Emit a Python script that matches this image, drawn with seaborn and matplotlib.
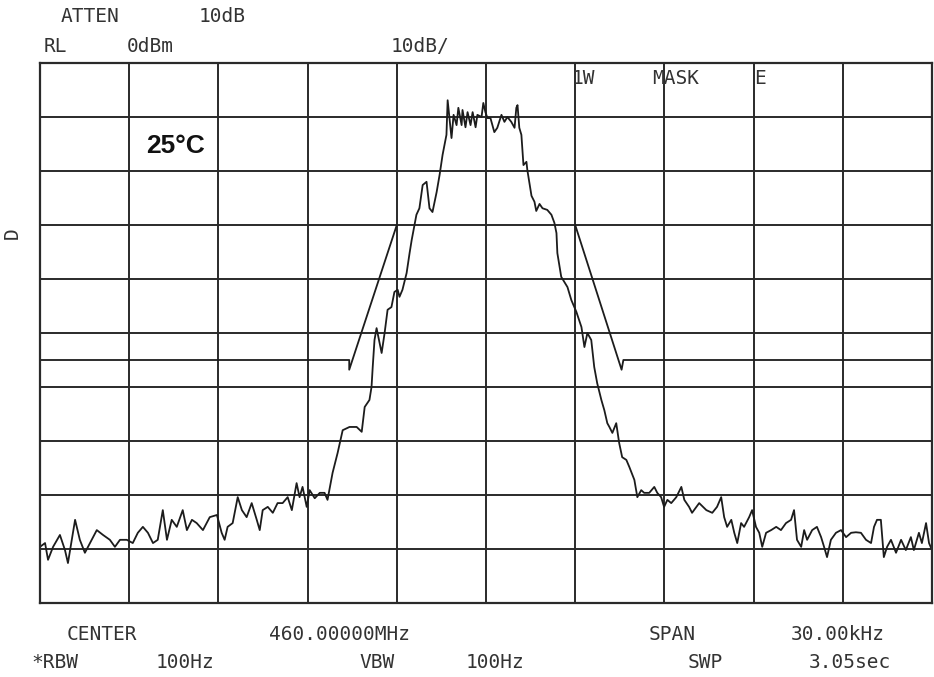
import numpy as np
import pandas as pd
import matplotlib
matplotlib.use("Agg")
import matplotlib.pyplot as plt
import seaborn as sns

# trace: offset from the 460 MHz centre (kHz) and level (dBm)
freq_khz = [
    -15.00, -14.83, -14.73, -14.56, -14.33, -14.16, -14.06, -13.93, -13.82, -13.66,
    -13.49, -13.32, -13.09, -12.88, -12.65, -12.48, -12.31, -12.08, -11.88, -11.71,
    -11.54, -11.37, -11.20, -11.04, -10.87, -10.73, -10.57, -10.40, -10.20, -10.06,
    -9.89, -9.73, -9.52, -9.29, -9.05, -8.89, -8.79, -8.69, -8.52, -8.35,
    -8.21, -8.05, -7.88, -7.71, -7.61, -7.51, -7.34, -7.17, -7.01, -6.84,
    -6.67, -6.53, -6.37, -6.27, -6.17, -6.03, -5.93, -5.76, -5.59, -5.43,
    -5.33, -5.16, -4.99, -4.82, -4.59, -4.35, -4.18, -4.08, -3.92, -3.85,
    -3.81, -3.75, -3.68, -3.51, -3.41, -3.31, -3.18, -3.08, -2.97, -2.91,
    -2.81, -2.67, -2.57, -2.50, -2.34, -2.24, -2.13, -2.00, -1.90, -1.80,
    -1.66, -1.56, -1.46, -1.33, -1.29, -1.23, -1.16, -1.09, -0.99, -0.93,
    -0.82, -0.79, -0.69, -0.62, -0.52, -0.45, -0.35, -0.29, -0.15, -0.09,
    -0.02, 0.05, 0.15, 0.28, 0.38, 0.52, 0.62, 0.72, 0.85, 0.96,
    1.02, 1.06, 1.12, 1.19, 1.26, 1.36, 1.39, 1.53, 1.63, 1.69,
    1.80, 1.90, 2.06, 2.20, 2.30, 2.37, 2.40, 2.53, 2.64, 2.74,
    2.87, 2.97, 3.04, 3.21, 3.31, 3.41, 3.54, 3.64, 3.74, 3.88,
    3.98, 4.08, 4.15, 4.25, 4.38, 4.48, 4.58, 4.72, 4.82, 4.99,
    5.09, 5.22, 5.32, 5.49, 5.66, 5.76, 5.89, 5.99, 6.10, 6.23,
    6.40, 6.57, 6.67, 6.83, 6.93, 7.17, 7.41, 7.61, 7.77, 7.91,
    8.01, 8.11, 8.25, 8.35, 8.45, 8.58, 8.68, 8.85, 8.95, 9.08,
    9.19, 9.29, 9.42, 9.59, 9.76, 9.92, 10.09, 10.26, 10.36, 10.46,
    10.60, 10.70, 10.80, 10.97, 11.13, 11.27, 11.37, 11.47, 11.60, 11.77,
    11.94, 12.11, 12.28, 12.44, 12.61, 12.78, 12.95, 13.05, 13.15, 13.28,
    13.38, 13.49, 13.62, 13.79, 13.96, 14.12, 14.29, 14.39, 14.56, 14.66,
    14.80, 14.90, 15.00,
]
level_dbm = [
    -89.6, -88.9, -92.0, -89.6, -87.4, -90.2, -92.6, -88.3, -84.6, -88.3,
    -90.7, -88.9, -86.5, -87.4, -88.3, -89.6, -88.3, -88.3, -88.9, -87.0,
    -85.9, -87.0, -88.9, -88.3, -82.8, -88.3, -84.6, -85.9, -82.8, -86.5,
    -84.6, -85.2, -86.5, -84.1, -83.7, -87.0, -88.3, -85.9, -85.2, -80.4,
    -82.8, -84.1, -81.5, -84.6, -86.5, -82.8, -82.2, -83.3, -81.5, -81.5,
    -80.4, -82.8, -77.8, -80.4, -78.5, -82.2, -79.1, -80.6, -79.6, -79.6,
    -80.9, -75.9, -72.2, -68.0, -67.4, -67.4, -68.3, -63.7, -62.4, -60.0,
    -56.3, -51.3, -49.1, -53.7, -50.0, -45.7, -45.2, -42.4, -42.0, -43.3,
    -42.0, -38.9, -35.2, -32.8, -28.1, -26.9, -22.6, -22.0, -26.9, -27.6,
    -23.9, -20.7, -17.0, -13.3, -6.9, -10.2, -13.9, -9.6, -11.5, -8.3,
    -11.5, -8.7, -11.9, -9.1, -11.5, -9.1, -11.9, -9.6, -10.0, -7.4,
    -9.1, -10.2, -10.2, -12.8, -12.0, -9.6, -10.9, -10.0, -10.9, -12.0,
    -8.3, -7.8, -12.0, -13.3, -18.9, -18.3, -19.8, -24.6, -25.7, -27.4,
    -26.1, -26.9, -27.2, -28.1, -29.6, -31.5, -35.2, -39.6, -40.6, -41.5,
    -43.9, -45.2, -46.1, -48.9, -52.6, -50.0, -51.3, -56.3, -59.3, -62.4,
    -64.3, -66.7, -67.4, -68.5, -66.7, -70.4, -73.0, -73.5, -74.8, -77.2,
    -80.4, -79.1, -79.6, -79.6, -78.5, -79.6, -80.4, -82.2, -80.9, -81.5,
    -80.4, -78.5, -80.9, -82.2, -83.3, -81.5, -82.8, -83.3, -82.2, -80.4,
    -84.1, -85.9, -84.6, -87.0, -88.9, -85.2, -85.9, -84.1, -82.8, -85.9,
    -87.0, -89.6, -87.0, -86.5, -85.9, -86.5, -85.2, -84.6, -82.8, -88.3,
    -89.6, -86.5, -88.3, -86.5, -85.9, -87.8, -89.6, -91.5, -88.3, -87.0,
    -86.5, -87.8, -87.0, -86.9, -87.0, -88.3, -88.9, -85.9, -84.6, -84.6,
    -91.5, -89.6, -88.3, -90.7, -88.3, -90.2, -87.8, -90.2, -87.0, -88.9,
    -85.2, -88.9, -90.2,
]

# "1W MASK E" limit lines
mask_left_khz = [-15.0, -4.6, -4.6, -3.0]
mask_left_dbm = [-55.0, -55.0, -56.8, -30.0]
mask_right_khz = [3.0, 4.56, 4.62, 15.0]
mask_right_dbm = [-30.0, -56.8, -55.0, -55.0]

sns.set_style("white")
plt.rcParams['font.family'] = ['DejaVu Sans Mono', 'DejaVu Sans']

W, H = 934, 677
fig = plt.figure(figsize=(W / 100, H / 100), dpi=100)
ax = fig.add_axes([40 / W, 1 - 603 / H, 892 / W, 540 / H])

ink = '#1c1c1c'
trace = pd.DataFrame({'kHz': freq_khz, 'dBm': level_dbm})
sns.lineplot(data=trace, x='kHz', y='dBm', sort=False, estimator=None,
             color=ink, lw=1.3, ax=ax)
for mx, my in [(mask_left_khz, mask_left_dbm), (mask_right_khz, mask_right_dbm)]:
    sns.lineplot(x=mx, y=my, sort=False, estimator=None, color=ink, lw=1.3, ax=ax)

ax.set_xlim(-15, 15)
ax.set_ylim(-100, 0)
ax.set_xticks(np.arange(-15, 16, 3))
ax.set_yticks(np.arange(-100, 1, 10))
ax.grid(True, color='#2a2a2a', lw=1.4)
ax.tick_params(length=0, labelbottom=False, labelleft=False)
ax.set_xlabel('')
ax.set_ylabel('')
for s in ax.spines.values():
    s.set_color('#2a2a2a')
    s.set_linewidth(1.6)

# screen annotations, placed word by word like the plotter output
txt = dict(fontsize=14, color='#333333', va='center', ha='center')
words = [
    ('ATTEN', 90, 17), ('10dB', 222, 17),
    ('RL', 55, 47), ('0dBm', 150, 47), ('10dB/', 420, 47),
    ('CENTER', 102, 635), ('460.00000MHz', 340, 635),
    ('SPAN', 672, 635), ('30.00kHz', 838, 635),
    ('*RBW', 55, 663), ('100Hz', 185, 663),
    ('VBW', 377, 663), ('100Hz', 495, 663),
    ('SWP', 705, 663), ('3.05sec', 850, 663),
    ('1W', 583, 78), ('MASK', 676, 78), ('E', 760, 78),
]
for w, x, y in words:
    fig.text(x / W, 1 - y / H, w, **txt)
fig.text(12 / W, 1 - 233 / H, 'D', rotation=90, **txt)
fig.text(146 / W, 1 - 146 / H, '25°C', fontsize=19, fontweight='bold',
         family='Liberation Sans', color='#111111', va='center', ha='left')

fig.savefig('out.png', dpi=100)
